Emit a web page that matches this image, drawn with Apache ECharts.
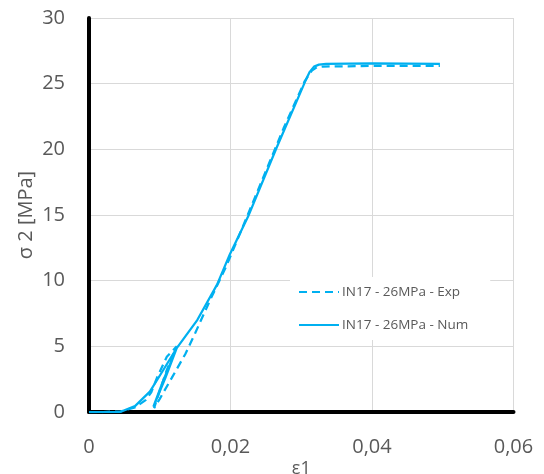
<!DOCTYPE html>
<html><head><meta charset="utf-8">
<script src="https://cdn.jsdelivr.net/npm/echarts@6/dist/echarts.min.js"></script>
<style>html,body{margin:0;padding:0;background:#fff}#c{width:544px;height:474px}</style>
</head><body><div id="c"></div>
<script>
var xTicks = [0, 0.02, 0.04, 0.06];
var yTicks = [0, 5, 10, 15, 20, 25, 30];
var seriesNames = ['IN17 - 26MPa - Exp', 'IN17 - 26MPa - Num'];
var expStrain = [0, 0.002, 0.0045, 0.0065, 0.0080, 0.0088, 0.0096, 0.0110, 0.0124, 0.0110, 0.0098, 0.0092, 0.0100, 0.0117, 0.0136, 0.0150, 0.0171, 0.0194, 0.0215, 0.0235, 0.0255, 0.0275, 0.0295, 0.0305, 0.0315, 0.0322, 0.0330, 0.0400, 0.0496];
var expStress = [0, 0, 0.05, 0.35, 0.9, 1.5, 2.6, 4.2, 5.0, 3.2, 1.3, 0.3, 1.0, 2.6, 4.4, 6.0, 8.5, 11.1, 13.8, 16.4, 19.0, 21.6, 24.0, 25.2, 26.0, 26.25, 26.3, 26.35, 26.35];
var numStrain = [0, 0.002, 0.0044, 0.0065, 0.0086, 0.0105, 0.0124, 0.0108, 0.0091, 0.0105, 0.0124, 0.0153, 0.0181, 0.0199, 0.0225, 0.0265, 0.0305, 0.0312, 0.0318, 0.0325, 0.0335, 0.0400, 0.0496];
var numStress = [0, 0, 0, 0.45, 1.55, 3.2, 4.86, 2.6, 0.4, 2.4, 4.86, 7.0, 9.7, 12.0, 14.9, 20.1, 25.1, 25.9, 26.3, 26.45, 26.5, 26.55, 26.5];

function pairs(xs, ys){ return xs.map(function(x,i){ return [x, ys[i]]; }); }
var blue = '#00B0F0';
var gray = '#595959';
var font = '"Open Sans", sans-serif';
var chart = echarts.init(document.getElementById('c'), null, {renderer:'canvas'});
chart.setOption({
  animation: false,
  backgroundColor: '#fff',
  grid: {left: 89, right: 30.5, top: 18, bottom: 62, containLabel: false, outerBoundsMode: 'none'},
  xAxis: {
    type: 'value', min: xTicks[0], max: xTicks[xTicks.length-1], interval: 0.02,
    name: 'ε1', nameLocation: 'middle', nameGap: 48, nameMoveOverlap: false,
    nameTextStyle: {color: gray, fontSize: 18, fontFamily: font, verticalAlign: 'top'},
    axisLine: {show: true, onZero: false, lineStyle: {color: '#000', width: 4}},
    axisTick: {show: false},
    axisLabel: {color: gray, fontSize: 20, fontFamily: font, margin: 25,
      formatter: function(v){ return String(+v.toFixed(2)).replace('.', ','); }},
    splitLine: {show: true, lineStyle: {color: '#d9d9d9', width: 1}}
  },
  yAxis: {
    type: 'value', min: yTicks[0], max: yTicks[yTicks.length-1], interval: 5,
    name: 'σ 2 [MPa]', nameLocation: 'middle', nameGap: 53, nameRotate: 90, nameMoveOverlap: false,
    nameTextStyle: {color: gray, fontSize: 20, fontFamily: font},
    axisLine: {show: true, onZero: false, lineStyle: {color: '#000', width: 4}},
    axisTick: {show: false},
    axisLabel: {color: gray, fontSize: 20, fontFamily: font, margin: 24},
    splitLine: {show: true, lineStyle: {color: '#d9d9d9', width: 1}}
  },
  legend: {
    orient: 'vertical', left: 290, top: 277,
    backgroundColor: '#fff', padding: [8, 22, 8, 8],
    itemWidth: 40, itemHeight: 14, itemGap: 19,
    itemStyle: {opacity: 0},
    textStyle: {color: gray, fontSize: 13.5, fontFamily: font, padding: [0,0,0,-2]},
    data: seriesNames
  },
  series: [
    {name: seriesNames[0], type: 'line', data: pairs(expStrain, expStress), symbol: 'none', smooth: false,
     lineStyle: {color: blue, width: 2.25, type: [8, 5]}, itemStyle: {color: blue}, z: 3},
    {name: seriesNames[1], type: 'line', data: pairs(numStrain, numStress), symbol: 'none', smooth: false,
     lineStyle: {color: blue, width: 2.25, type: 'solid'}, itemStyle: {color: blue}, z: 2}
  ]
});
</script></body></html>
